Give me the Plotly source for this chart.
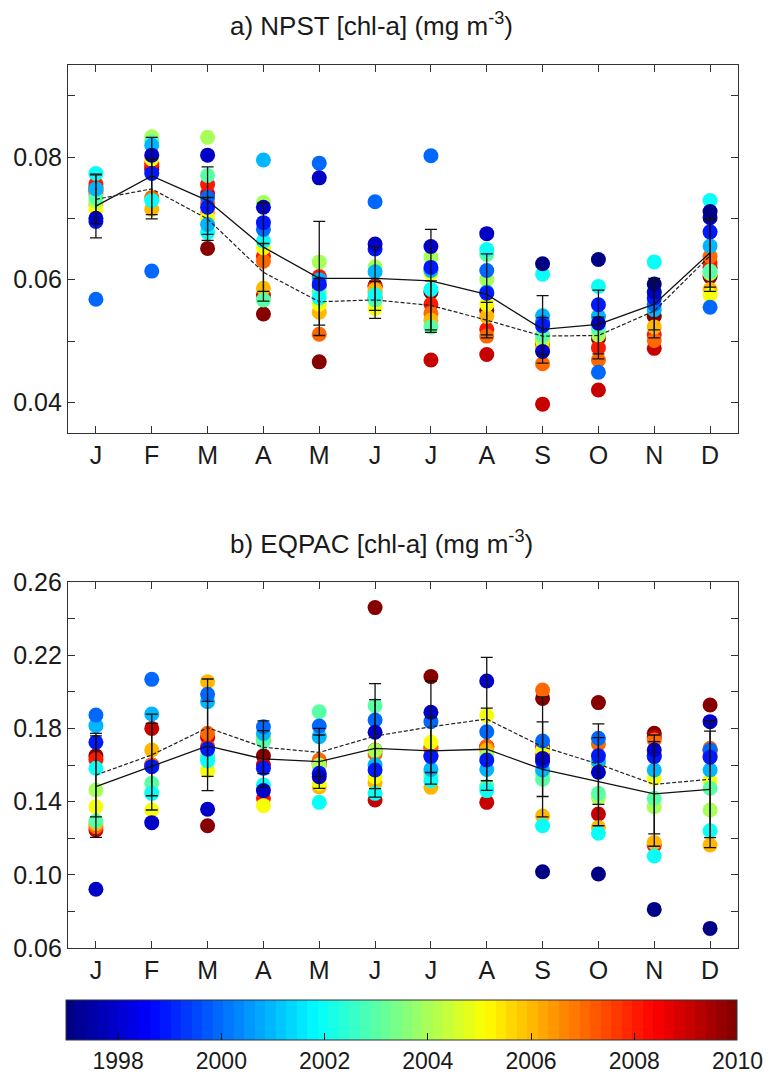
import plotly.graph_objects as go

# ---------------- data ----------------
YEARS = list(range(1997, 2011))
MONTHS = ["J", "F", "M", "A", "M", "J", "J", "A", "S", "O", "N", "D"]
MONTH_POS = list(range(1, 13))

# NPST chl-a per month, ordered by year 1997..2010 (None = no data)
NPST_JAN = [None, 0.0700, 0.0695, 0.0568, 0.0748, 0.0773, 0.0734, 0.0728, 0.0715, 0.0722, 0.0740, 0.0756, 0.0750, 0.0745]
NPST_FEB = [None, 0.0803, 0.0773, 0.0614, 0.0819, 0.0729, 0.0825, 0.0833, 0.0797, 0.0715, 0.0734, 0.0790, 0.0785, 0.0780]
NPST_MAR = [None, 0.0803, 0.0718, 0.0734, 0.0690, 0.0677, 0.0770, 0.0832, 0.0700, 0.0710, 0.0725, 0.0755, 0.0740, 0.0651]
NPST_APR = [None, 0.0718, 0.0693, 0.0682, 0.0795, 0.0663, 0.0567, 0.0726, 0.0652, 0.0586, 0.0630, 0.0638, 0.0575, 0.0544]
NPST_MAY = [None, 0.0766, 0.0593, 0.0790, 0.0600, 0.0570, 0.0580, 0.0629, 0.0560, 0.0547, 0.0511, 0.0605, 0.0590, 0.0466]
NPST_JUN = [None, 0.0658, 0.0650, 0.0727, 0.0613, 0.0575, 0.0567, 0.0621, 0.0553, 0.0584, 0.0580, 0.0589, 0.0570, 0.0590]
NPST_JUL = [None, 0.0654, 0.0620, 0.0802, 0.0615, 0.0584, 0.0523, 0.0637, 0.0610, 0.0534, 0.0545, 0.0560, 0.0469, 0.0580]
NPST_AUG = [None, 0.0675, 0.0578, 0.0615, 0.0580, 0.0649, 0.0641, 0.0600, 0.0560, 0.0540, 0.0508, 0.0519, 0.0478, 0.0550]
NPST_SEP = [0.0626, 0.0483, 0.0525, 0.0530, 0.0541, 0.0609, 0.0510, 0.0505, 0.0500, 0.0490, 0.0463, 0.0500, 0.0397, 0.0495]
NPST_OCT = [0.0633, 0.0529, 0.0559, 0.0449, 0.0540, 0.0589, 0.0520, 0.0510, 0.0530, 0.0540, 0.0469, 0.0489, 0.0420, 0.0504]
NPST_NOV = [0.0593, 0.0580, 0.0570, 0.0560, 0.0551, 0.0629, 0.0580, 0.0575, 0.0565, 0.0523, 0.0501, 0.0510, 0.0488, 0.0540]
NPST_DEC = [0.0711, 0.0701, 0.0678, 0.0555, 0.0655, 0.0729, 0.0614, 0.0610, 0.0575, 0.0584, 0.0638, 0.0627, 0.0620, 0.0605]

# EQPAC chl-a per month, ordered by year 1997..2010
EQPAC_JAN = [None, 0.0921, 0.1724, 0.1873, 0.1815, 0.1582, 0.1294, 0.1463, 0.1372, 0.1280, 0.1263, 0.1630, 0.1245, 0.1650]
EQPAC_FEB = [None, 0.1285, 0.1591, 0.2068, 0.1879, 0.1445, 0.1500, 0.1450, 0.1354, 0.1682, 0.1600, 0.1600, 0.1800, 0.1600]
EQPAC_MAR = [None, 0.1358, 0.1687, 0.1986, 0.1946, 0.1624, 0.1650, 0.1640, 0.1569, 0.2055, 0.1773, 0.1700, 0.1750, 0.1268]
EQPAC_APR = [None, 0.1460, 0.1582, 0.1809, 0.1773, 0.1491, 0.1728, 0.1740, 0.1378, 0.1751, 0.1740, 0.1418, 0.1600, 0.1650]
EQPAC_MAY = [None, 0.1536, 0.1555, 0.1813, 0.1755, 0.1396, 0.1891, 0.1600, 0.1500, 0.1480, 0.1627, 0.1600, 0.1610, 0.1620]
EQPAC_JUN = [None, 0.1779, 0.1573, 0.1846, 0.1600, 0.1445, 0.1924, 0.1680, 0.1536, 0.1503, 0.1660, 0.1682, 0.1409, 0.2460]
EQPAC_JUL = [None, 0.1888, 0.1646, 0.1837, 0.1576, 0.1514, 0.1560, 0.1540, 0.1724, 0.1478, 0.1700, 0.1690, 0.1650, 0.2083]
EQPAC_AUG = [None, 0.2059, 0.1627, 0.1782, 0.1576, 0.1460, 0.1482, 0.1650, 0.1870, 0.1680, 0.1700, 0.1700, 0.1396, 0.1700]
EQPAC_SEP = [0.1017, 0.1636, 0.1620, 0.1731, 0.1573, 0.1268, 0.1522, 0.1550, 0.1682, 0.1321, 0.2010, 0.1650, 0.1700, 0.1964]
EQPAC_OCT = [0.1004, 0.1560, 0.1650, 0.1746, 0.1618, 0.1227, 0.1445, 0.1420, 0.1600, 0.1259, 0.1715, 0.1600, 0.1332, 0.1941]
EQPAC_NOV = [0.0811, 0.1682, 0.1646, 0.1650, 0.1573, 0.1103, 0.1418, 0.1372, 0.1527, 0.1176, 0.1737, 0.1160, 0.1750, 0.1773]
EQPAC_DEC = [0.0707, 0.1837, 0.1642, 0.1682, 0.1573, 0.1241, 0.1473, 0.1354, 0.1514, 0.1163, 0.1691, 0.1650, 0.1680, 0.1928]

# climatology lines (solid, dashed) with error bars
NPST_SOLID = [0.0720, 0.0769, 0.0729, 0.0653, 0.0602, 0.0602, 0.0598, 0.0576, 0.0519, 0.0527, 0.0560, 0.0644]
NPST_SOLID_ERR = [0.0052, 0.0063, 0.0055, 0.0072, 0.0093, 0.0052, 0.0084, 0.0066, 0.0055, 0.0056, 0.0042, 0.0056]
NPST_DASHED = [0.0731, 0.0748, 0.0699, 0.0612, 0.0564, 0.0567, 0.0558, 0.0534, 0.0508, 0.0509, 0.0549, 0.0639]
NPST_DASHED_ERR = [0.0040, 0.0049, 0.0035, 0.0047, 0.0038, 0.0030, 0.0040, 0.0029, 0.0030, 0.0030, 0.0044, 0.0058]

EQPAC_SOLID = [0.1482, 0.1591, 0.1704, 0.1633, 0.1618, 0.1691, 0.1677, 0.1686, 0.1576, 0.1509, 0.1442, 0.1467]
EQPAC_SOLID_ERR = [0.0277, 0.0237, 0.0244, 0.0155, 0.0146, 0.0266, 0.0182, 0.0225, 0.0260, 0.0241, 0.0286, 0.0318]
EQPAC_DASHED = [0.1545, 0.1655, 0.1804, 0.1697, 0.1669, 0.1758, 0.1809, 0.1851, 0.1700, 0.1605, 0.1494, 0.1522]
EQPAC_DASHED_ERR = [0.0228, 0.0223, 0.0266, 0.0144, 0.0131, 0.0287, 0.0250, 0.0337, 0.0272, 0.0220, 0.0270, 0.0319]

NPST_TICKS = [0.04, 0.06, 0.08]
NPST_TICKTEXT = ["0.04", "0.06", "0.08"]
NPST_MINOR = [0.05, 0.07, 0.09]
EQPAC_TICKS = [0.06, 0.10, 0.14, 0.18, 0.22, 0.26]
EQPAC_TICKTEXT = ["0.06", "0.10", "0.14", "0.18", "0.22", "0.26"]
EQPAC_MINOR = [0.08, 0.12, 0.16, 0.20, 0.24]
CBAR_TICKS = [1998, 2000, 2002, 2004, 2006, 2008, 2010]

TITLE_A = "a) NPST [chl-a] (mg m<sup>-3</sup>)"
TITLE_B = "b) EQPAC [chl-a] (mg m<sup>-3</sup>)"

NPST_MONTHS = [NPST_JAN, NPST_FEB, NPST_MAR, NPST_APR, NPST_MAY, NPST_JUN,
               NPST_JUL, NPST_AUG, NPST_SEP, NPST_OCT, NPST_NOV, NPST_DEC]
EQPAC_MONTHS = [EQPAC_JAN, EQPAC_FEB, EQPAC_MAR, EQPAC_APR, EQPAC_MAY, EQPAC_JUN,
                EQPAC_JUL, EQPAC_AUG, EQPAC_SEP, EQPAC_OCT, EQPAC_NOV, EQPAC_DEC]


# ---------------- style helpers ----------------
def jet_band(x):
    def c(v):
        return max(0.0, min(1.0, v))
    r = c(1.5 - abs(4 * x - 3))
    g = c(1.5 - abs(4 * x - 2))
    b = c(1.5 - abs(4 * x - 1))
    return "rgb(%d,%d,%d)" % (round(r * 255), round(g * 255), round(b * 255))


N_BANDS = 64
JET = []
for i in range(N_BANDS):
    col = jet_band((i + 0.5) / N_BANDS)
    JET.append([i / N_BANDS, col])
    JET.append([(i + 1) / N_BANDS, col])

FONT = "Liberation Sans, Arial, sans-serif"
TXT = "#1a1a1a"
AX = "#333333"


def scatter_points(month_lists):
    # later years drawn first so that earlier years sit on top
    xs, ys, cs = [], [], []
    for k in reversed(range(len(YEARS))):
        yr = YEARS[k]
        for m, vals in enumerate(month_lists):
            v = vals[k]
            if v is not None:
                xs.append(MONTH_POS[m])
                ys.append(v)
                cs.append(yr)
    return xs, ys, cs


fig = go.Figure()

for idx, (months, solid, serr, dashed, derr) in enumerate([
    (NPST_MONTHS, NPST_SOLID, NPST_SOLID_ERR, NPST_DASHED, NPST_DASHED_ERR),
    (EQPAC_MONTHS, EQPAC_SOLID, EQPAC_SOLID_ERR, EQPAC_DASHED, EQPAC_DASHED_ERR),
]):
    xa = "x" if idx == 0 else "x2"
    ya = "y" if idx == 0 else "y2"
    xs, ys, cs = scatter_points(months)
    marker = dict(size=15, color=cs, colorscale=JET, cmin=1997, cmax=2010,
                  line=dict(width=0), opacity=1)
    if idx == 0:
        marker["showscale"] = True
        marker["colorbar"] = dict(
            orientation="h", x=402 / 770, xanchor="center",
            y=(1074 - 1000) / 1074, yanchor="top", yref="paper",
            len=671 / 770, lenmode="fraction", thickness=40, thicknessmode="pixels",
            outlinewidth=1, outlinecolor=AX,
            tickvals=CBAR_TICKS, ticks="inside", ticklen=7, tickcolor="#111", tickwidth=1.2,
            tickfont=dict(family=FONT, size=23, color=TXT),
            xpad=0, ypad=0,
        )
    fig.add_trace(go.Scatter(x=xs, y=ys, mode="markers", marker=marker,
                             xaxis=xa, yaxis=ya, showlegend=False, hoverinfo="skip"))
    fig.add_trace(go.Scatter(
        x=MONTH_POS, y=solid, mode="lines", xaxis=xa, yaxis=ya, showlegend=False,
        line=dict(color="#111", width=1.3),
        error_y=dict(type="data", array=serr, visible=True, color="#111",
                     thickness=1.3, width=6)))
    fig.add_trace(go.Scatter(
        x=MONTH_POS, y=dashed, mode="lines", xaxis=xa, yaxis=ya, showlegend=False,
        line=dict(color="#222", width=1.2, dash="4px,2px"),
        error_y=dict(type="data", array=derr, visible=True, color="#111",
                     thickness=1.3, width=6)))

axis_common = dict(showline=True, linecolor=AX, linewidth=1.2, mirror="ticks",
                   ticks="inside", ticklen=7, tickcolor=AX, tickwidth=1.2,
                   showgrid=False, zeroline=False,
                   tickfont=dict(family=FONT, size=25, color=TXT))
minor_common = dict(ticks="inside", ticklen=7, tickcolor=AX, tickwidth=1.2, showgrid=False)

xdom = [68 / 770, 738 / 770]
fig.update_layout(
    width=770, height=1074,
    margin=dict(l=0, r=0, t=0, b=0, autoexpand=False),
    paper_bgcolor="white", plot_bgcolor="white",
    xaxis=dict(domain=xdom, range=[0.5, 12.5], tickvals=MONTH_POS, ticktext=MONTHS,
               anchor="y", **axis_common),
    yaxis=dict(domain=[(1074 - 433) / 1074, (1074 - 65) / 1074], range=[0.035, 0.095],
               tickvals=NPST_TICKS, ticktext=NPST_TICKTEXT, anchor="x",
               minor=dict(tickmode="array", tickvals=NPST_MINOR, **minor_common),
               **axis_common),
    xaxis2=dict(domain=xdom, range=[0.5, 12.5], tickvals=MONTH_POS, ticktext=MONTHS,
                anchor="y2", **axis_common),
    yaxis2=dict(domain=[(1074 - 948) / 1074, (1074 - 582) / 1074], range=[0.06, 0.26],
                tickvals=EQPAC_TICKS, ticktext=EQPAC_TICKTEXT, anchor="x2",
                minor=dict(tickmode="array", tickvals=EQPAC_MINOR, **minor_common),
                **axis_common),
    annotations=[
        dict(text=TITLE_A, x=228 / 770, y=1 - 25 / 1074, xref="paper", yref="paper",
             xanchor="left", yanchor="middle", showarrow=False,
             font=dict(family=FONT, size=26, color=TXT)),
        dict(text=TITLE_B, x=228 / 770, y=1 - 542 / 1074, xref="paper", yref="paper",
             xanchor="left", yanchor="middle", showarrow=False,
             font=dict(family=FONT, size=26, color=TXT)),
    ],
)

fig.write_html("out.html")
